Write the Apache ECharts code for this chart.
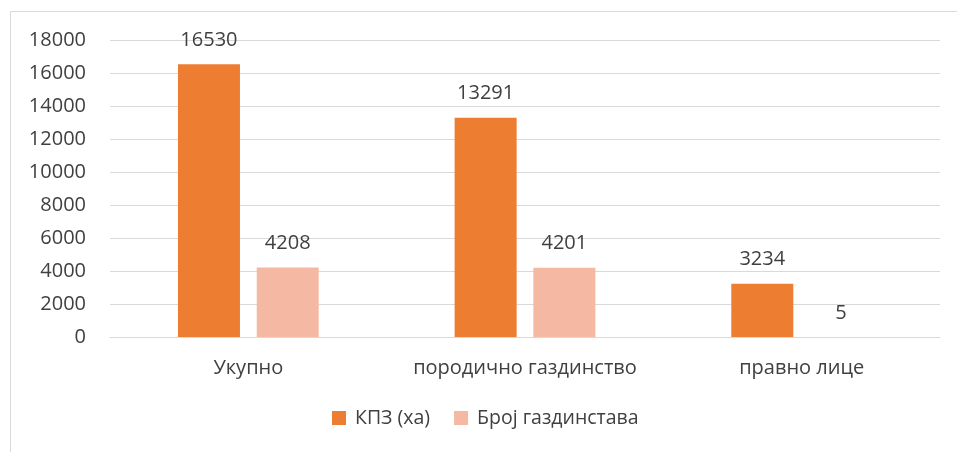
<!DOCTYPE html>
<html>
<head>
<meta charset="utf-8">
<script src="https://cdn.jsdelivr.net/npm/echarts@6/dist/echarts.min.js"></script>
<style>
  html, body { margin: 0; padding: 0; background: #fff; }
  #main { width: 957px; height: 452px; }
</style>
</head>
<body>
<div id="main"></div>
<script>
// categories and values
var categories = ['Укупно', 'породично газдинство', 'правно лице'];
var kpzValues = [16530, 13291, 3234];
var farmValues = [4208, 4201, 5];
var seriesNames = ['КПЗ (ха)', 'Број газдинстава'];

var textColor = '#404040';
var font = 'Open Sans';
var fontSize = 20;

var myChart = echarts.init(document.getElementById('main'));

var option = {
    backgroundColor: '#fff',
    textStyle: { fontFamily: font },
    graphic: [{
        type: 'rect',
        shape: { x: 10.5, y: 11.5, width: 1000, height: 600 },
        style: { fill: 'none', stroke: '#d9d9d9', lineWidth: 1 },
        silent: true
    }],
    grid: { left: 110, right: 17, top: 40, bottom: 115 },
    legend: {
        data: seriesNames,
        bottom: 19,
        left: 327,
        itemWidth: 14,
        itemHeight: 14,
        itemGap: 24,
        icon: 'rect',
        textStyle: { color: textColor, fontSize: 19.5, fontFamily: font, padding: [0, 0, 0, 4] }
    },
    xAxis: {
        type: 'category',
        data: categories,
        axisLine: { lineStyle: { color: '#d9d9d9' } },
        axisTick: { show: false },
        axisLabel: { color: textColor, fontSize: fontSize, margin: 21, fontFamily: font, interval: 0 }
    },
    yAxis: {
        type: 'value',
        min: 0,
        max: 18000,
        interval: 2000,
        axisLine: { show: false },
        axisTick: { show: false },
        axisLabel: {
            color: textColor, fontSize: fontSize, margin: 24, fontFamily: font,
            formatter: function (v) { return String(v); }
        },
        splitLine: { lineStyle: { color: '#d9d9d9' } }
    },
    series: [{
        name: seriesNames[0],
        type: 'bar',
        data: kpzValues,
        barWidth: 62,
        barGap: '27%',
        itemStyle: { color: '#ED7D31' },
        label: { show: true, position: 'top', distance: 14, color: textColor, fontSize: fontSize, fontFamily: font }
    }, {
        name: seriesNames[1],
        type: 'bar',
        data: farmValues,
        barWidth: 62,
        itemStyle: { color: '#F4B8A3' },
        label: { show: true, position: 'top', distance: 14, color: textColor, fontSize: fontSize, fontFamily: font }
    }]
};

myChart.setOption(option);
</script>
</body>
</html>
